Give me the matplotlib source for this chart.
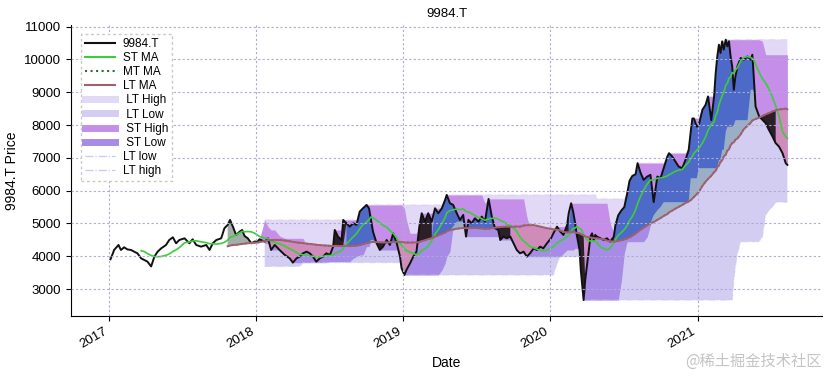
import numpy as np
import pandas as pd
import matplotlib
matplotlib.use("Agg")
import matplotlib.pyplot as plt
import matplotlib.dates as mdates
from matplotlib.lines import Line2D

# ---------------- data ----------------
TICKER = "9984.T"

dates = [
    "2017-01-04", "2017-01-10", "2017-01-13", "2017-01-24", "2017-01-30", "2017-02-07", "2017-02-15",
    "2017-02-24", "2017-03-04", "2017-03-12", "2017-03-21", "2017-03-29", "2017-04-06", "2017-04-15",
    "2017-04-23", "2017-05-01", "2017-05-10", "2017-05-22", "2017-05-30", "2017-06-08", "2017-06-16",
    "2017-06-24", "2017-07-07", "2017-07-19", "2017-07-27", "2017-08-05", "2017-08-17", "2017-08-30",
    "2017-09-07", "2017-09-15", "2017-09-24", "2017-10-06", "2017-10-14", "2017-10-22", "2017-10-28",
    "2017-11-04", "2017-11-12", "2017-11-21", "2017-11-27", "2017-12-03", "2017-12-11", "2017-12-20",
    "2017-12-28",
    "2018-01-04", "2018-01-09", "2018-01-22", "2018-01-30", "2018-02-07", "2018-02-16", "2018-02-28",
    "2018-03-13", "2018-03-25", "2018-04-02", "2018-04-11", "2018-04-19", "2018-04-27", "2018-05-06",
    "2018-05-14", "2018-05-22", "2018-05-30", "2018-06-08", "2018-06-16", "2018-06-24", "2018-07-03",
    "2018-07-11", "2018-07-15", "2018-07-23", "2018-08-01", "2018-08-05", "2018-08-13", "2018-08-21",
    "2018-08-30", "2018-09-07", "2018-09-15", "2018-09-23", "2018-10-02", "2018-10-08", "2018-10-13",
    "2018-10-18", "2018-10-27", "2018-11-04", "2018-11-12", "2018-11-21", "2018-11-29", "2018-12-07",
    "2018-12-16", "2018-12-24", "2018-12-28",
    "2019-01-04", "2019-01-09", "2019-01-18", "2019-01-26", "2019-02-03", "2019-02-10", "2019-02-16",
    "2019-02-24", "2019-03-04", "2019-03-13", "2019-03-21", "2019-03-29", "2019-04-07", "2019-04-15",
    "2019-04-19", "2019-04-27", "2019-05-05", "2019-05-14", "2019-05-22", "2019-05-30", "2019-06-06",
    "2019-06-12", "2019-06-20", "2019-06-28", "2019-07-07", "2019-07-15", "2019-07-23", "2019-08-01",
    "2019-08-09", "2019-08-17", "2019-08-25", "2019-08-30", "2019-09-07", "2019-09-15", "2019-09-24",
    "2019-10-02", "2019-10-10", "2019-10-18", "2019-10-27", "2019-11-04", "2019-11-12", "2019-11-21",
    "2019-11-29", "2019-12-07", "2019-12-15", "2019-12-24",
    "2020-01-03", "2020-01-09", "2020-01-18", "2020-01-26", "2020-02-03", "2020-02-12", "2020-02-16",
    "2020-02-22", "2020-02-27", "2020-03-03", "2020-03-07", "2020-03-14", "2020-03-17", "2020-03-21",
    "2020-03-24", "2020-03-28", "2020-04-01", "2020-04-05", "2020-04-10", "2020-04-14", "2020-04-18",
    "2020-04-22", "2020-04-26", "2020-05-05", "2020-05-13", "2020-05-21", "2020-05-29", "2020-06-07",
    "2020-06-11", "2020-06-18", "2020-06-26", "2020-07-03", "2020-07-10", "2020-07-16", "2020-07-23",
    "2020-07-31", "2020-08-05", "2020-08-12", "2020-08-20", "2020-08-29", "2020-09-06", "2020-09-14",
    "2020-09-23", "2020-10-01", "2020-10-09", "2020-10-18", "2020-10-22", "2020-10-30", "2020-11-07",
    "2020-11-15", "2020-11-24", "2020-12-02", "2020-12-10", "2020-12-15", "2020-12-19", "2020-12-23",
    "2020-12-30",
    "2021-01-04", "2021-01-13", "2021-01-21", "2021-01-27", "2021-02-04", "2021-02-11", "2021-02-15",
    "2021-02-19", "2021-02-23", "2021-02-27", "2021-03-03", "2021-03-07", "2021-03-12", "2021-03-16",
    "2021-03-20", "2021-03-24", "2021-03-28", "2021-04-01", "2021-04-05", "2021-04-10", "2021-04-18",
    "2021-04-26", "2021-05-05", "2021-05-13", "2021-05-17", "2021-05-20", "2021-05-25", "2021-06-03",
    "2021-06-11", "2021-06-19", "2021-06-27", "2021-07-06", "2021-07-14", "2021-07-22", "2021-07-31",
    "2021-08-08", "2021-08-12",
]

close = [
    3908, 4090, 4192, 4345, 4192, 4274, 4210,
    4192, 4140, 4090, 3938, 3887, 3836, 3690,
    3988, 4140, 4243, 4345, 4497, 4579, 4395,
    4497, 4548, 4395, 4518, 4345, 4294, 4345,
    4192, 4395, 4497, 4548, 4854, 4955, 5108,
    4904, 4650, 4752, 4803, 4620, 4548, 4396,
    4450,
    4445, 4518, 4445, 4548, 4192, 4345, 4192,
    4040, 3938, 3806, 3938, 3989, 4090, 4141,
    4090, 3989, 3836, 3938, 3989, 4090, 4040,
    4294, 4803, 4599, 4497, 5108, 5006, 4904,
    5006, 4955, 5362, 5464, 5566, 5464, 5108,
    4751, 4396, 4192, 4294, 4497, 4345, 4701,
    4396, 3989, 3633,
    3429, 3582, 3785, 3989, 4141, 4905, 5312,
    5056, 5312, 5056, 5464, 5312, 5464, 5718,
    5871, 5617, 5566, 5312, 5108, 5261, 4599,
    5108, 5006, 5159, 5056, 5210, 5056, 5750,
    5210, 4854, 4803, 4497, 4599, 4548, 4599,
    4396, 4192, 4090, 4141, 3989, 4090, 4243,
    4192, 4294, 4243, 4396,
    4548, 4701, 4905, 4752, 4650, 4955, 5312,
    5617, 5363, 5006, 4650, 4192, 3582, 3072,
    2665, 3276, 3683, 4090, 4599, 4701, 4497,
    4650, 4599, 4548, 4497, 4548, 4445, 4599,
    4950, 5250, 5400, 5500, 5900, 6300, 6450,
    6500, 6840, 6560, 6329, 6431, 6482, 5650,
    6431, 6380, 6686, 7041, 7143, 7041, 6889,
    6736, 6686, 6940, 7245, 7800, 8200, 8200,
    7950,
    8000, 8466, 8620, 8873, 8150, 8873, 9586,
    10093, 10450, 10196, 10552, 10297, 10603, 10399,
    10552, 10093, 9789, 9076, 9484, 9789, 10044,
    9993, 10093, 9993, 10145, 9586, 8567, 8262,
    8161, 8059, 7856, 7651, 7449, 7347, 7143,
    6838, 6787,
]

y_ticks = [3000, 4000, 5000, 6000, 7000, 8000, 9000, 10000, 11000]

# indicator windows (calendar-day equivalents of 50 / 200 / 63 / 252 sessions)
ST_MA_WIN = "72D"
LT_MA_WIN = "290D"
ST_RANGE_WIN = "91D"
LT_RANGE_WIN = "372D"

# ---------------- colours ----------------
LT_LOW_C = "#d3cdf1"
LT_HIGH_C = "#e1d9f5"
ST_HIGH_C = "#c58ee8"
ST_LOW_C = "#a78be6"
BLUE_C = "#4d6ac8"
TEAL_C = "#9aafc6"
GRAYGREEN_C = "#a3aea8"
PINK_C = "#cf8bba"
DARK_C = "#2c1f27"
ST_MA_C = "#3ccc3c"
MT_MA_C = "#2f6b40"
LT_MA_C = "#a0616f"

# ---------------- indicators ----------------
s = pd.Series(close, index=pd.to_datetime(dates), dtype=float)
# each reading stands for the days since the previous reading (time-weighted averages)
gap = s.index.to_series().diff().dt.days.fillna(3).astype(float)


def start_mask(r, win):
    r = r.copy()
    r[s.index < s.index[0] + pd.Timedelta(win)] = np.nan
    return r.values


def roll_mean(win):
    r = (s * gap).rolling(win).sum() / gap.rolling(win).sum()
    return start_mask(r, win)


def roll(win, how):
    return start_mask(getattr(s.rolling(win), how)(), win)


ma_st = roll_mean(ST_MA_WIN)
ma_mt = roll_mean(LT_MA_WIN)
ma_lt = roll_mean(LT_MA_WIN)
lt_hi = roll(LT_RANGE_WIN, "max")
lt_lo = roll(LT_RANGE_WIN, "min")
st_hi = roll(ST_RANGE_WIN, "max")
st_lo = roll(ST_RANGE_WIN, "min")

d = s.index
c = s.values
bands = ~np.isnan(lt_lo)

plt.rcParams["font.family"] = ["Liberation Sans Narrow", "Liberation Sans", "DejaVu Sans"]

fig = plt.figure(figsize=(8.27, 3.79), dpi=100)
ax = fig.add_axes([71 / 827, 1 - 316 / 379, (822 - 71) / 827, (316 - 25) / 379])

with np.errstate(invalid="ignore"):
    # long-term range
    ax.fill_between(d, lt_lo, c, where=bands & (c > lt_lo), color=LT_LOW_C, lw=0, interpolate=True)
    ax.fill_between(d, c, lt_hi, where=bands & (c < lt_hi), color=LT_HIGH_C, lw=0, interpolate=True)
    # short-term range
    ax.fill_between(d, st_lo, c, where=(c >= st_lo) & (st_lo >= lt_lo), color=ST_LOW_C, lw=0, interpolate=True)
    ax.fill_between(d, c, st_hi, where=(c <= st_hi) & (st_hi <= lt_hi), color=ST_HIGH_C, lw=0, interpolate=True)
    # moving-average regime
    bull = ma_st >= ma_lt
    bear = ma_st < ma_lt
    bull_up = bull & (c >= ma_lt)
    ax.fill_between(d, ma_lt, c, where=bull_up & ~bands, color=GRAYGREEN_C, lw=0, interpolate=True)
    ax.fill_between(d, ma_lt, c, where=bull_up & bands, color=TEAL_C, lw=0, interpolate=True)
    ax.fill_between(d, np.fmax(ma_lt, st_lo), c, where=bull_up & bands, color=BLUE_C, lw=0, interpolate=True)
    ax.fill_between(d, c, ma_lt, where=bear & (c <= ma_lt), color=PINK_C, lw=0, interpolate=True)
    ax.fill_between(d, c, ma_lt, where=(bull & (c < ma_lt)) | (bear & (c > ma_lt)), color=DARK_C, lw=0,
                    interpolate=True)

ax.plot(d, lt_lo, "-.", color="#c9c9ee", lw=0.8, alpha=0.6)
ax.plot(d, lt_hi, "-.", color="#e3c9ee", lw=0.8, alpha=0.6)
ax.plot(d, c, "-", color="#111111", lw=1.4)
ax.plot(d, ma_st, "-", color=ST_MA_C, lw=1.2)
ax.plot(d, ma_mt, ":", color=MT_MA_C, lw=1.2)
ax.plot(d, ma_lt, "-", color=LT_MA_C, lw=1.4)

handles = [
    Line2D([], [], color="#111111", lw=1.5, label=TICKER),
    Line2D([], [], color=ST_MA_C, lw=1.5, label="ST MA"),
    Line2D([], [], color=MT_MA_C, lw=1.5, ls=":", label="MT MA"),
    Line2D([], [], color=LT_MA_C, lw=1.5, label="LT MA"),
    Line2D([], [], color=LT_HIGH_C, lw=5, label=" LT High"),
    Line2D([], [], color=LT_LOW_C, lw=5, label=" LT Low"),
    Line2D([], [], color=ST_HIGH_C, lw=5, label=" ST High"),
    Line2D([], [], color=ST_LOW_C, lw=5, label=" ST Low"),
    Line2D([], [], color="#c9c9ee", lw=0.9, ls="-.", label="LT low"),
    Line2D([], [], color="#c9c9ee", lw=0.9, ls="-.", label="LT high"),
]
leg = ax.legend(handles=handles, loc="upper left", fontsize=8.5, labelspacing=0.18, handlelength=2.6,
                handletextpad=0.6, borderpad=0.35, fancybox=False, framealpha=1, edgecolor="#c8c8c8",
                bbox_to_anchor=(0.005, 0.99))
leg.get_frame().set_linestyle((0, (2, 2)))

ax.xaxis.set_major_locator(mdates.YearLocator())
ax.xaxis.set_major_formatter(mdates.DateFormatter("%Y"))
ax.set_xlim(pd.Timestamp("2016-09-28"), pd.Timestamp("2021-11-06"))
ax.set_ylim(2180, 11050)
ax.set_yticks(y_ticks)
ax.set_yticklabels([str(v) for v in y_ticks])
for lab in ax.get_xticklabels():
    lab.set_rotation(30)
    lab.set_ha("right")
ax.tick_params(labelsize=9.5, length=3.5)

ax.grid(True, which="major", color="#aeaad6", linestyle=(0, (2, 2)), linewidth=0.8)
ax.set_axisbelow(False)
for sp in ["top", "right"]:
    ax.spines[sp].set_visible(False)

ax.set_title(TICKER, fontsize=9.5, pad=6)
ax.set_xlabel("Date", fontsize=10)
ax.set_ylabel(TICKER + " Price", fontsize=10)

fig.text(0.993, 1 - 361 / 379, "@稀土掘金技术社区", ha="right", va="center", fontsize=11, color="#c4c4c4",
         family=["Noto Sans CJK SC", "DejaVu Sans"])

fig.savefig("out.png", dpi=100)
